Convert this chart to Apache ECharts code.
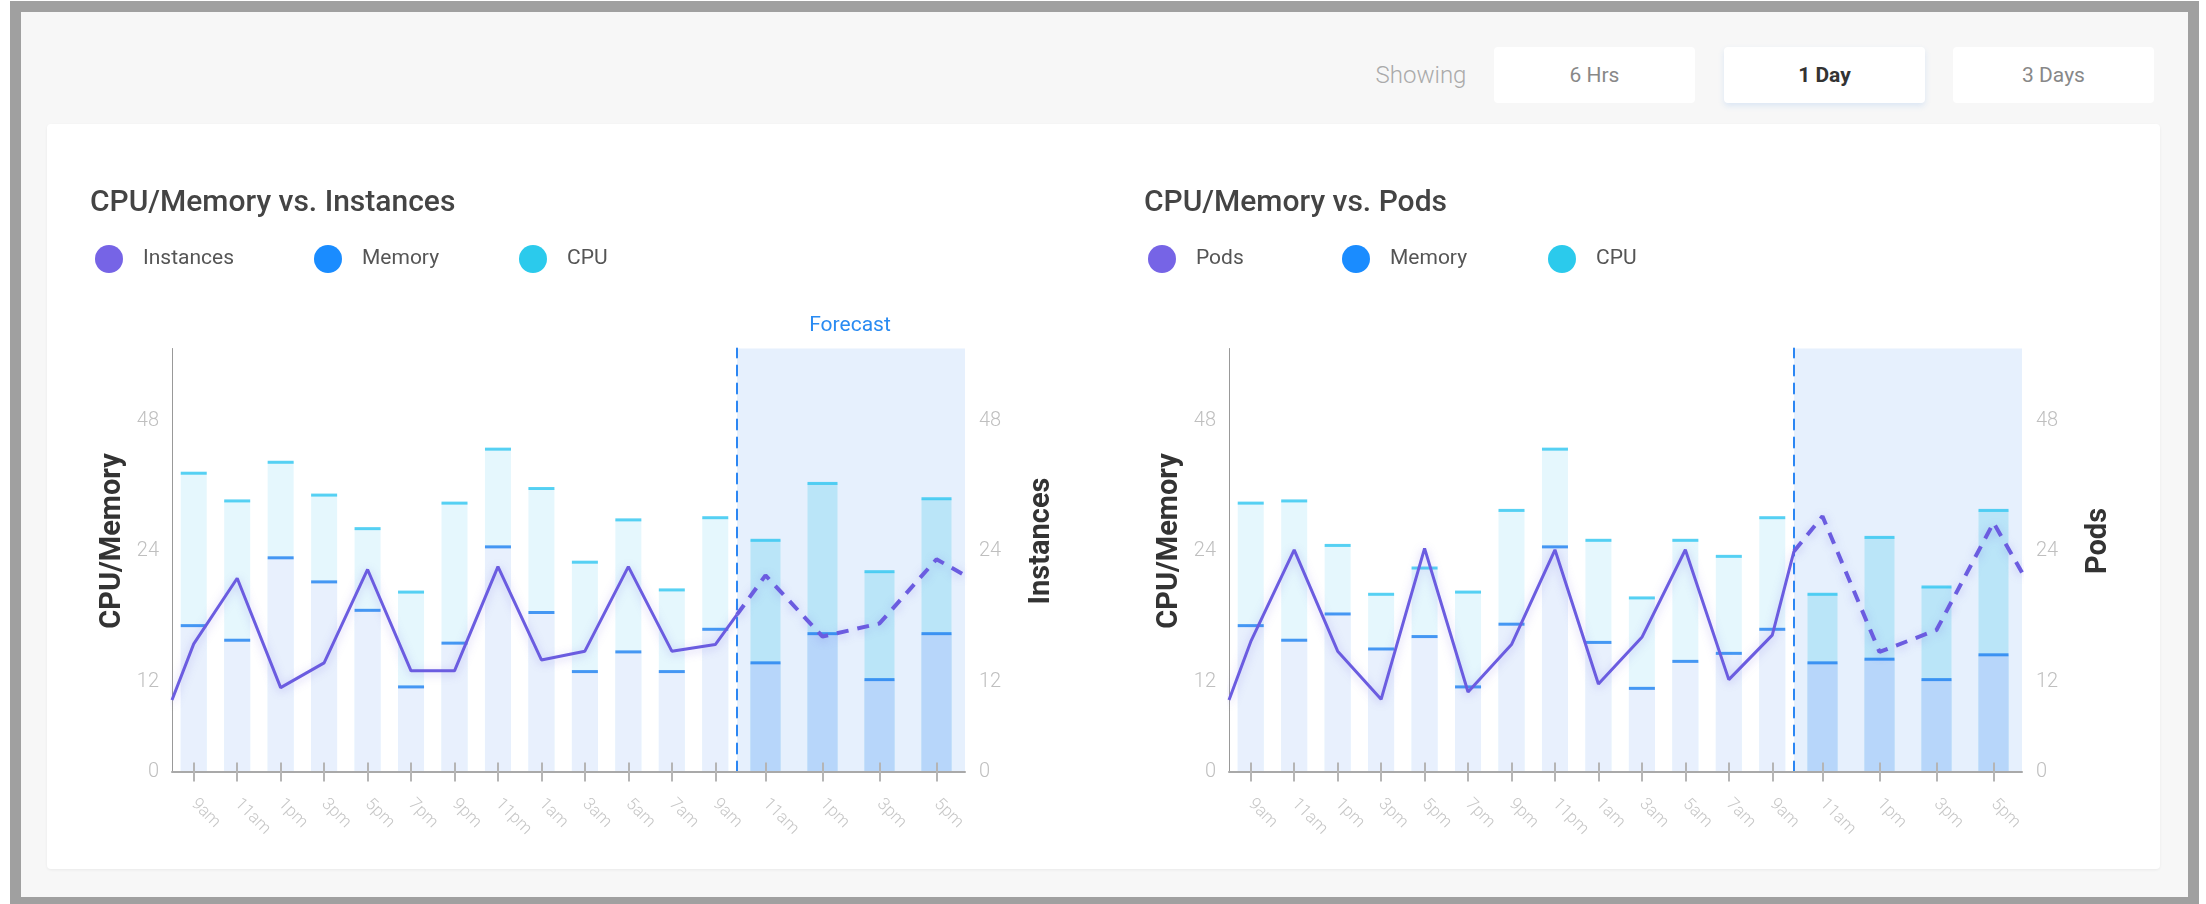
<!DOCTYPE html>
<html><head><meta charset="utf-8">
<script src="https://cdn.jsdelivr.net/npm/echarts@6/dist/echarts.min.js"></script>
<style>
html,body{margin:0;padding:0;width:2206px;height:904px;background:#fff;overflow:hidden;font-family:Roboto,'Noto Sans',sans-serif;}
#frame{position:absolute;left:10px;top:1px;width:2167px;height:885px;border-style:solid;border-color:#a0a0a0;border-width:11px 11px 7px 11px;background:#f7f7f7;}
#card{position:absolute;left:47px;top:124px;width:2113px;height:745px;background:#fff;border-radius:4px;box-shadow:0 1px 3px rgba(0,0,0,0.06);}
#showing{position:absolute;left:1360px;width:122px;text-align:center;top:60px;line-height:30px;font-size:24px;font-weight:300;color:#aaa;}
.btn{position:absolute;top:47px;width:201px;height:56px;line-height:56px;text-align:center;background:#fff;border-radius:4px;font-size:21px;color:#888;}
.btn.active{color:#333;font-weight:bold;box-shadow:0 3px 6px rgba(40,120,230,0.13);}
#chart{position:absolute;left:0;top:0;width:2206px;height:904px;}
</style></head>
<body>
<div id="frame"></div>
<div id="card"></div>
<div id="showing">Showing</div>
<div class="btn" style="left:1494px">6 Hrs</div>
<div class="btn active" style="left:1724px">1 Day</div>
<div class="btn" style="left:1953px">3 Days</div>
<div id="chart"></div>
<script>
// ---- data ----
const histTimes = ['9am','11am','1pm','3pm','5pm','7pm','9pm','11pm','1am','3am','5am','7am','9am'];
const forecastTimes = ['11am','1pm','3pm','5pm'];
const yTickLabels = ['0','12','24','48'];

// CPU/Memory vs. Instances
const instCpuHist = [40.9,37.1,42.4,37.9,33.3,24.6,36.8,44.2,38.8,28.7,34.5,24.9,34.8];
const instMemHist = [20.0,18.0,29.3,26.0,22.1,11.6,17.6,30.8,21.8,13.7,16.4,13.7,19.5];
const instCpuForecast = [31.7,39.5,27.4,37.4];
const instMemForecast = [14.9,18.9,12.6,18.9];
const instancesHist = [17.5,26.5,11.5,14.9,27.7,13.8,13.8,28.1,15.3,16.5,28.1,16.5,17.4];
const instancesForecast = [26.9,18.5,20.3,29.1];
const instancesEdges = [9.8,21.5,26.9]; // at left axis, at forecast boundary, at right edge

// CPU/Memory vs. Pods
const podCpuHist = [36.8,37.1,31.0,24.3,27.9,24.6,35.8,44.2,31.7,23.8,31.7,29.5,34.8];
const podMemHist = [20.0,18.0,21.6,16.8,18.5,11.6,20.2,30.8,17.7,11.4,15.1,16.2,19.5];
const podCpuForecast = [24.3,32.1,25.3,35.8];
const podMemForecast = [14.9,15.4,12.6,16.0];
const podsHist = [17.8,30.4,16.5,9.9,30.6,10.9,17.4,30.4,12.0,18.4,30.4,12.6,18.7];
const podsForecast = [35.0,16.4,19.4,34.1];
const podsEdges = [9.8,30.2,27.3];

// ---- layout / style ----
const GRID_TOP = 348.5, GRID_H = 423, HIST_W = 565, FC_W = 228, Y_MAX = 58;
const Y_TICK_POS = [0, 12.3, 30.2, 48];
function yLabel(v){ let b=0; for(let i=1;i<Y_TICK_POS.length;i++){ if(Math.abs(Y_TICK_POS[i]-v)<Math.abs(Y_TICK_POS[b]-v)) b=i; } return yTickLabels[b]; }
const C = {line:'#6b5ce0', cpuMark:'#2ec5f0', memMark:'#1c80f0', cpuHist:'#e5f7fd', memHist:'#e8f0fd', cpuFc:'#bae5f8', memFc:'#b7d6fa', fcBg:'#e6f0fd', dash:'#2b86f3'};

const option = {animation:false, textStyle:{fontFamily:'Roboto'}, title:[], legend:[], grid:[], xAxis:[], yAxis:[], series:[]};

function legendItem(name, color, cx){
  return {data:[{name:name, icon:'circle', itemStyle:{color:color, borderWidth:0}}], left:cx-14, top:245, padding:0,
    itemWidth:28, itemHeight:28, selectedMode:false, textStyle:{fontSize:21, color:'#555', padding:[0,0,0,15]}};
}

function addChart(c){
  const gA = option.grid.length, gB = gA + 1;
  option.grid.push({left:c.x0, top:GRID_TOP, width:HIST_W, height:GRID_H, outerBoundsMode:'none'});
  option.grid.push({left:c.x0+HIST_W, top:GRID_TOP, width:FC_W, height:GRID_H, outerBoundsMode:'none', show:true, backgroundColor:C.fcBg, borderWidth:0});
  const xi = option.xAxis.length;
  const catAxis = (grid, data, main) => ({type:'category', gridIndex:grid, data:data, position:'bottom', boundaryGap:true, z:8,
    axisLine:{show:main, onZero:false, lineStyle:{color:'#a9a9a9', width:2}},
    axisTick:{show:true, inside:!main, length: main?10:9, alignWithLabel:true, interval:0, lineStyle:{color:'#b5b5b5', width:2}},
    axisLabel: main ? {show:true, interval:0, rotate:-45, margin:30, color:'#c6c6c6', fontSize:17, fontWeight:300} : {show:false},
    splitLine:{show:false}});
  const valX = (grid, n) => ({type:'value', gridIndex:grid, min:-0.5, max:n-0.5, show:false, splitLine:{show:false}});
  option.xAxis.push(catAxis(gA, histTimes, true), catAxis(gA, histTimes, false), valX(gA, histTimes.length));
  option.xAxis.push(catAxis(gB, forecastTimes, true), catAxis(gB, forecastTimes, false), valX(gB, forecastTimes.length));
  const yi = option.yAxis.length;
  const nameStyle = {fontSize:29, fontWeight:'bold', color:'#333', padding:[0,0,0,38]};
  const labelStyle = {show:true, customValues:Y_TICK_POS, formatter:yLabel, color:'#bfbfbf', fontSize:20, fontWeight:300};
  option.yAxis.push({type:'value', gridIndex:gA, position:'left', min:0, max:Y_MAX, z:8,
    axisLine:{show:true, onZero:false, lineStyle:{color:'#999', width:1}}, axisTick:{show:false}, splitLine:{show:false},
    axisLabel:Object.assign({margin:13}, labelStyle),
    name:'CPU/Memory', nameLocation:'middle', nameRotate:90, nameGap:45, nameMoveOverlap:false, nameTextStyle:nameStyle});
  option.yAxis.push({type:'value', gridIndex:gB, position:'left', min:0, max:Y_MAX, z:8,
    axisLine:{show:true, onZero:false, lineStyle:{color:C.dash, width:2, type:[10,8]}}, axisTick:{show:false}, axisLabel:{show:false}, splitLine:{show:false}});
  option.yAxis.push({type:'value', gridIndex:gB, position:'right', min:0, max:Y_MAX,
    axisLine:{show:false, onZero:false}, axisTick:{show:false}, splitLine:{show:false},
    axisLabel:Object.assign({margin:14}, labelStyle),
    name:c.lineName, nameLocation:'middle', nameRotate:90, nameGap:62, nameMoveOverlap:false, nameTextStyle:nameStyle});

  const parts = [
    {cat:xi, val:xi+2, y:yi, cpu:c.cpuHist, mem:c.memHist, line:c.lineHist, bw:26, cpuCol:C.cpuHist, memCol:C.memHist,
     edges:[c.edges[0], c.edges[1]], dashed:false},
    {cat:xi+3, val:xi+5, y:yi+1, cpu:c.cpuFc, mem:c.memFc, line:c.lineFc, bw:30, cpuCol:C.cpuFc, memCol:C.memFc,
     edges:[c.edges[1], c.edges[2]], dashed:true}
  ];
  parts.forEach(p => {
    const n = p.cpu.length;
    option.series.push({type:'bar', name:'CPU', xAxisIndex:p.cat, yAxisIndex:p.y, data:p.cpu, barWidth:p.bw, barGap:'-100%',
      itemStyle:{color:p.cpuCol}, silent:true, z:2});
    option.series.push({type:'bar', name:'Memory', xAxisIndex:p.cat, yAxisIndex:p.y, data:p.mem, barWidth:p.bw, barGap:'-100%',
      itemStyle:{color:p.memCol}, silent:true, z:2});
    option.series.push({type:'scatter', name:'CPU', xAxisIndex:p.cat, yAxisIndex:p.y, data:p.cpu.map((v,i)=>[i,v]),
      symbol:'rect', symbolSize:[p.bw,3], itemStyle:{color:C.cpuMark}, silent:true, z:3});
    option.series.push({type:'scatter', name:'Memory', xAxisIndex:p.cat, yAxisIndex:p.y, data:p.mem.map((v,i)=>[i,v]),
      symbol:'rect', symbolSize:[p.bw,3], itemStyle:{color:C.memMark}, silent:true, z:3});
    const pts = [[-0.5, p.edges[0]]].concat(p.line.map((v,i)=>[i,v])).concat([[n-0.5, p.edges[1]]]);
    option.series.push({type:'line', name:c.lineName, xAxisIndex:p.val, yAxisIndex:p.y, data:pts, symbol:'none', silent:true, z:10,
      lineStyle:{color:C.line, width:p.dashed?4:3, type:p.dashed?[12,9]:'solid', shadowColor:'rgba(107,92,224,0.35)', shadowBlur:10, shadowOffsetY:2}});
  });

  option.title.push({text:c.title, left:c.titleX, top:188, padding:0, textStyle:{fontSize:30, fontWeight:500, color:'#444'}});
  option.legend.push(legendItem(c.lineName, '#7664e6', c.legendX[0]));
  option.legend.push(legendItem('Memory', '#1a8cff', c.legendX[1]));
  option.legend.push(legendItem('CPU', '#2bcaec', c.legendX[2]));
}

addChart({x0:172, title:'CPU/Memory vs. Instances', titleX:90, lineName:'Instances', legendX:[109,328,533],
  cpuHist:instCpuHist, memHist:instMemHist, cpuFc:instCpuForecast, memFc:instMemForecast,
  lineHist:instancesHist, lineFc:instancesForecast, edges:instancesEdges});
addChart({x0:1229, title:'CPU/Memory vs. Pods', titleX:1144, lineName:'Pods', legendX:[1162,1356,1562],
  cpuHist:podCpuHist, memHist:podMemHist, cpuFc:podCpuForecast, memFc:podMemForecast,
  lineHist:podsHist, lineFc:podsForecast, edges:podsEdges});

option.title.push({text:'Forecast', left:850, textAlign:'center', top:315, padding:0, textStyle:{fontSize:21, fontWeight:'normal', color:'#2a8bf2'}});

const chart = echarts.init(document.getElementById('chart'), null, {renderer:'canvas', width:2206, height:904});
chart.setOption(option);
</script>
</body></html>
